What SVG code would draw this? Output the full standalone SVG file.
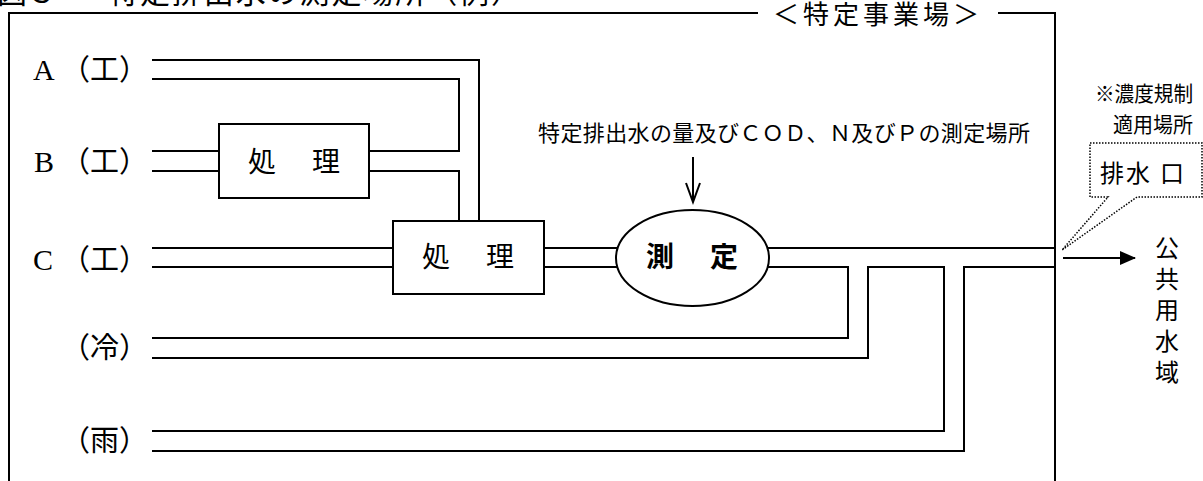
<svg xmlns="http://www.w3.org/2000/svg" width="1203" height="481" viewBox="0 0 1203 481">
<style>
.ln{fill:none;stroke:#000;stroke-width:2}
.bx{fill:#fff;stroke:#000;stroke-width:2}
.dot{fill:none;stroke:#000;stroke-width:1.5;stroke-dasharray:1.5 1.5}
.jp{font-family:"Noto Sans CJK JP","Noto Sans CJK SC",sans-serif;fill:#000}
.lat{font-family:"Liberation Serif",serif;fill:#000}
</style>
<defs>
<marker id="tri" viewBox="0 0 16 14" refX="15" refY="7" markerWidth="16" markerHeight="14" markerUnits="userSpaceOnUse" orient="auto">
<path d="M0,0 L16,7 L0,14 Z" fill="#000"/>
</marker>
</defs>
<rect width="1203" height="481" fill="#fff"/>

<g id="title">
<text class="jp" font-size="30" y="3"><tspan x="-3">図３　</tspan><tspan x="108" textLength="413">特定排出水の測定場所（例）</tspan></text>
</g>

<g id="frame">
<path class="ln" d="M9,481 V13 H758 M998,13 H1055 V481"/>
<text class="jp" font-size="26" x="878" y="24" text-anchor="middle" letter-spacing="4">＜特定事業場＞</text>
</g>

<g id="connectors">
<path class="ln" d="M152,60 H479 V221"/>
<path class="ln" d="M152,79 H459 V151 H369"/>
<path class="ln" d="M152,151 H219 M152,171 H219"/>
<path class="ln" d="M369,171 H459 V221"/>
<path class="ln" d="M152,248 H393 M152,267 H393"/>
<path class="ln" d="M544,248 H630 M544,267 H630"/>
<path class="ln" d="M755,248 H1055"/>
<path class="ln" d="M755,267 H848 V338 H152"/>
<path class="ln" d="M152,358 H868 V267 H944 V431 H152"/>
<path class="ln" d="M152,451 H964 V267 H1055"/>
<path class="ln" d="M693,157 V202 M686,183 L693,202 L700,183"/>
<path class="ln" d="M1063,258 H1135" marker-end="url(#tri)"/>
</g>

<g id="label-a"><text y="80"><tspan class="lat" font-size="30" x="33">A</tspan><tspan class="jp" font-size="29" x="61">（工）</tspan></text></g>
<g id="label-b"><text y="172"><tspan class="lat" font-size="30" x="34">B</tspan><tspan class="jp" font-size="29" x="61">（工）</tspan></text></g>
<g id="label-c"><text y="270"><tspan class="lat" font-size="30" x="33">C</tspan><tspan class="jp" font-size="29" x="61">（工）</tspan></text></g>
<g id="label-cold"><text class="jp" font-size="29" x="61" y="358">（冷）</text></g>
<g id="label-rain"><text class="jp" font-size="29" x="61" y="451">（雨）</text></g>

<g id="treat-b">
<rect class="bx" x="219" y="124" width="150" height="74"/>
<text class="jp" font-size="28" x="248" y="172" letter-spacing="4">処　理</text>
</g>

<g id="treat-main">
<rect class="bx" x="393" y="221" width="151" height="73"/>
<text class="jp" font-size="28" x="422" y="267" letter-spacing="4">処　理</text>
</g>

<g id="measure">
<ellipse class="bx" cx="692.5" cy="258" rx="76.5" ry="48"/>
<text class="jp" font-size="28" font-weight="bold" x="646" y="267" letter-spacing="4">測　定</text>
</g>

<g id="note">
<text class="jp" font-size="22" x="538" y="141" textLength="492">特定排出水の量及びＣＯＤ、Ｎ及びＰの測定場所</text>
</g>

<g id="regnote">
<text class="jp" font-size="21" x="1095" y="101" textLength="98" lengthAdjust="spacingAndGlyphs">※濃度規制</text>
<text class="jp" font-size="21" x="1113" y="132" textLength="80" lengthAdjust="spacingAndGlyphs">適用場所</text>
</g>

<g id="outlet">
<path class="dot" d="M1108,197 H1090 V143 H1202 V197 H1137 L1062,250 Z"/>
<text class="jp" font-size="24" x="1100" y="182" letter-spacing="2">排水<tspan dx="8">口</tspan></text>
</g>

<g id="water">
<text class="jp" font-size="24" x="1167" y="236" letter-spacing="7" style="writing-mode:vertical-rl">公共用水域</text>
</g>
</svg>
